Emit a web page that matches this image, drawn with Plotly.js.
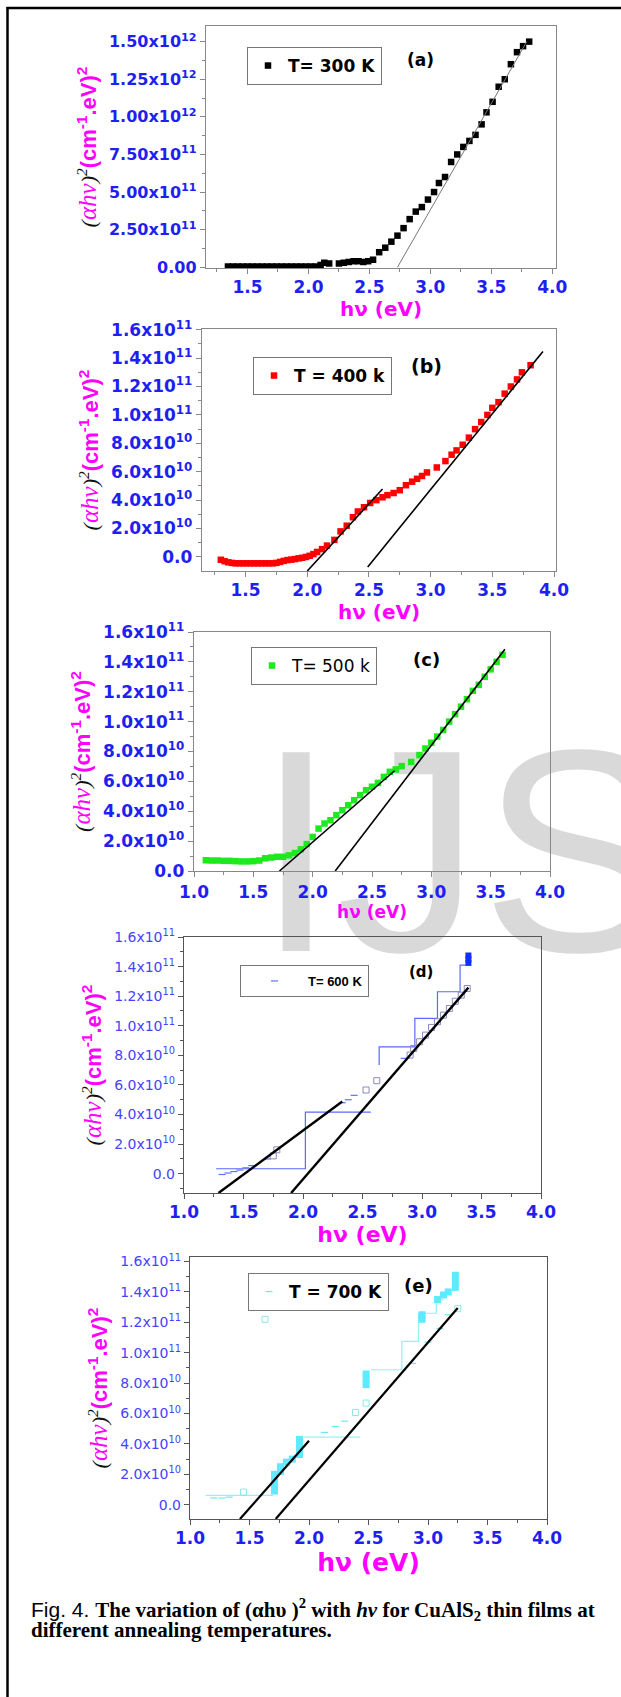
<!DOCTYPE html>
<html>
<head>
<meta charset="utf-8">
<script src="https://cdn.plot.ly/plotly-3.0.1.min.js"></script>
<style>html,body{margin:0;padding:0;background:#fff;}#chart{width:621px;height:1697px;}</style>
</head>
<body>
<div id="chart"></div>
<script>
// ---------------- DATA ----------------
// (a) T = 300 K   (y in cm^-2 eV^2)
const aX = [1.34,1.38,1.42,1.46,1.50,1.54,1.58,1.62,1.66,1.70,1.74,1.78,1.82,1.86,1.90,1.94,1.98,2.02,2.06,2.10,2.13,2.17,2.25,2.29,2.33,2.37,2.41,2.45,2.49,2.53,2.58,2.63,2.68,2.73,2.78,2.83,2.88,2.93,2.98,3.03,3.07,3.12,3.17,3.22,3.27,3.32,3.37,3.42,3.46,3.51,3.56,3.61,3.66,3.71,3.76,3.81];
const aY = [0.005e12,0.005e12,0.005e12,0.005e12,0.005e12,0.005e12,0.005e12,0.005e12,0.005e12,0.005e12,0.005e12,0.005e12,0.005e12,0.005e12,0.005e12,0.005e12,0.005e12,0.005e12,0.005e12,0.015e12,0.03e12,0.025e12,0.025e12,0.03e12,0.035e12,0.04e12,0.04e12,0.035e12,0.04e12,0.05e12,0.10e12,0.13e12,0.17e12,0.21e12,0.26e12,0.32e12,0.37e12,0.40e12,0.45e12,0.50e12,0.56e12,0.60e12,0.70e12,0.75e12,0.80e12,0.84e12,0.88e12,0.95e12,1.03e12,1.10e12,1.20e12,1.25e12,1.35e12,1.43e12,1.47e12,1.50e12];
const aFitX = [2.73, 3.79];
const aFitY = [0, 1.5e12];

// (b) T = 400 k
const bX = [1.30,1.33,1.36,1.39,1.42,1.45,1.48,1.51,1.54,1.57,1.60,1.63,1.66,1.69,1.72,1.75,1.78,1.81,1.84,1.87,1.90,1.93,1.96,1.99,2.02,2.05,2.08,2.12,2.16,2.22,2.27,2.32,2.37,2.41,2.46,2.51,2.56,2.61,2.65,2.70,2.75,2.80,2.85,2.89,2.93,2.97,3.05,3.12,3.17,3.21,3.26,3.31,3.36,3.41,3.46,3.50,3.55,3.60,3.65,3.70,3.74,3.81];
const bY = [-0.2e10,-0.3e10,-0.38e10,-0.42e10,-0.45e10,-0.45e10,-0.45e10,-0.45e10,-0.45e10,-0.45e10,-0.45e10,-0.45e10,-0.45e10,-0.45e10,-0.45e10,-0.42e10,-0.35e10,-0.28e10,-0.22e10,-0.19e10,-0.15e10,-0.1e10,-0.06e10,0.0,0.08e10,0.2e10,0.35e10,0.55e10,0.8e10,1.2e10,1.8e10,2.2e10,2.8e10,3.2e10,3.5e10,3.8e10,4.0e10,4.2e10,4.35e10,4.5e10,4.7e10,5.05e10,5.3e10,5.5e10,5.7e10,5.95e10,6.3e10,6.75e10,7.2e10,7.5e10,7.9e10,8.4e10,9.0e10,9.5e10,10.0e10,10.5e10,10.9e10,11.5e10,12.0e10,12.5e10,13.0e10,13.5e10];
const bFit1X = [2.00, 2.61];
const bFit1Y = [-0.99e10, 4.78e10];
const bFit2X = [2.49, 3.91];
const bFit2Y = [-0.7e10, 14.47e10];

// (c) T = 500 k
const cX = [1.10,1.15,1.20,1.25,1.30,1.35,1.40,1.45,1.50,1.55,1.60,1.65,1.70,1.75,1.80,1.85,1.90,1.95,2.00,2.05,2.10,2.15,2.20,2.25,2.30,2.35,2.40,2.45,2.50,2.55,2.60,2.65,2.70,2.75,2.83,2.90,2.95,3.00,3.05,3.10,3.15,3.20,3.25,3.30,3.35,3.40,3.45,3.50,3.55,3.60];
const cY = [0.72e10,0.70e10,0.70e10,0.68e10,0.68e10,0.66e10,0.64e10,0.64e10,0.66e10,0.70e10,0.85e10,0.90e10,0.95e10,0.95e10,1.05e10,1.2e10,1.45e10,1.8e10,2.28e10,2.84e10,3.18e10,3.4e10,3.74e10,4.07e10,4.4e10,4.74e10,5.08e10,5.41e10,5.64e10,5.9e10,6.3e10,6.64e10,6.8e10,7.02e10,7.3e10,7.76e10,8.2e10,8.59e10,9.0e10,9.44e10,10.0e10,10.5e10,11.0e10,11.5e10,12.06e10,12.46e10,13.0e10,13.5e10,14.0e10,14.47e10];
const cFit1X = [1.72, 2.69];
const cFit1Y = [0, 6.71e10];
const cFit2X = [2.19, 3.62];
const cFit2Y = [0, 14.85e10];

// (d) T = 600 K
const dStepX = [1.27, 2.02, 2.57, null, 2.64, 2.64, 2.94, 3.13, 3.32, 3.40];
const dStepY = [0.34e10, 4.16e10, 4.16e10, null, 7.35e10, 8.58e10, 10.5e10, 12.3e10, 14.1e10, 14.1e10];
const dOpenX = [1.75,1.78,2.53,2.62,2.90,2.93,2.98,3.03,3.08,3.13,3.18,3.23,3.28,3.33,3.38,4.15];
const dOpenY = [1.21e10,1.62e10,5.66e10,6.29e10,8.02e10,8.47e10,8.92e10,9.37e10,9.89e10,10.27e10,10.72e10,11.17e10,11.66e10,12.07e10,12.52e10,-3.06e10];
const dDotX = [1.32,1.37,1.42,1.47,1.52,1.57,1.70,2.33,2.38,2.43,2.85];
const dDotY = [-0.05e10,0.05e10,0.15e10,0.25e10,0.4e10,0.55e10,1.0e10,4.8e10,5.0e10,5.3e10,7.8e10];
const dFillX = [3.39, 3.39, 3.39];
const dFillY = [14.25e10, 14.5e10, 14.75e10];
const dFit1X = [1.29, 2.33];
const dFit1Y = [-1.3e10, 4.88e10];
const dFit2X = [1.90, 3.39];
const dFit2Y = [-1.3e10, 12.58e10];

// (e) T = 700 K
const eStepX = [1.13, 1.70, null, 1.96, 2.43, null, 2.52, 2.78, 2.92, 3.07, 3.13];
const eStepY = [0.61e10, 0.61e10, null, 4.45e10, 4.45e10, null, 8.88e10, 10.75e10, 12.6e10, 13.5e10, 13.5e10];
const eFillX = [1.71,1.71,1.71,1.71,1.76,1.76,1.81,1.86,1.92,1.92,1.92,1.92,2.48,2.48,2.48,2.95,2.95,3.08,3.13,3.17,3.23,3.23,3.23];
const eFillY = [0.9e10,1.3e10,1.7e10,2.0e10,2.2e10,2.5e10,2.8e10,3.0e10,3.3e10,3.7e10,4.0e10,4.3e10,7.9e10,8.3e10,8.6e10,12.2e10,12.5e10,13.5e10,13.8e10,14.0e10,14.3e10,14.7e10,15.1e10];
const eOpenX = [1.63, 1.45, 2.39, 2.48, 3.25];
const eOpenY = [12.2e10, 0.83e10, 6.07e10, 6.69e10, 12.9e10];
const eDotX = [1.20,1.27,1.33,2.13,2.22,2.30,2.87,3.00,3.10,3.17];
const eDotY = [0.44e10,0.44e10,0.5e10,4.76e10,5.15e10,5.5e10,9.3e10,10.7e10,11.6e10,12.5e10];
const eFit1X = [1.42, 2.00];
const eFit1Y = [-0.94e10, 4.21e10];
const eFit2X = [1.72, 3.25];
const eFit2Y = [-0.94e10, 12.94e10];

// tick labels
const xTicksA = [1.5, 2.0, 2.5, 3.0, 3.5, 4.0];
const xTextA = ['1.5', '2.0', '2.5', '3.0', '3.5', '4.0'];
const xTicksC = [1.0, 1.5, 2.0, 2.5, 3.0, 3.5, 4.0];
const xTextC = ['1.0', '1.5', '2.0', '2.5', '3.0', '3.5', '4.0'];
const yTicksA = [0, 0.25e12, 0.5e12, 0.75e12, 1.0e12, 1.25e12, 1.5e12];
const yTextA = ['0.00', '2.50x10<sup>11</sup>', '5.00x10<sup>11</sup>', '7.50x10<sup>11</sup>', '1.00x10<sup>12</sup>', '1.25x10<sup>12</sup>', '1.50x10<sup>12</sup>'];
const yTicksB = [0, 2e10, 4e10, 6e10, 8e10, 1.0e11, 1.2e11, 1.4e11, 1.6e11];
const yTextB = ['0.0', '2.0x10<sup>10</sup>', '4.0x10<sup>10</sup>', '6.0x10<sup>10</sup>', '8.0x10<sup>10</sup>', '1.0x10<sup>11</sup>', '1.2x10<sup>11</sup>', '1.4x10<sup>11</sup>', '1.6x10<sup>11</sup>'];

const legendNames = ['T= 300 K', 'T = 400 k', 'T= 500 k', 'T= 600 K', 'T = 700 K'];
const panelLabels = ['(a)', '(b)', '(c)', '(d)', '(e)'];

// ---------------- STYLE / LAYOUT ----------------
const W = 621, H = 1697;
const magenta = '#ff00ff';
const blue = '#1f1ff2';
const blueLight = '#4444ff';
const geo = [
  {l:206, r:556, t:26,   b:268,  xr:[1.16,4.03], yr:[-0.005e12,1.604e12], yfs:16, ybold:true, yc:blue, xts:20, so:0, tls:-2, frame:'#888'},
  {l:202, r:556, t:329,  b:571,  xr:[1.147,4.016], yr:[-0.99e10,1.605e11], yfs:17, ybold:true, yc:blue, xts:20, so:0, tls:-2, frame:'#888'},
  {l:194, r:550, t:632,  b:871,  xr:[1.0,4.0], yr:[0,1.6e11], yfs:17, ybold:true, yc:blue, xts:17, so:2, tls:0, frame:'#888'},
  {l:184, r:541, t:937,  b:1193, xr:[1.0,4.0], yr:[-1.3e10,1.6e11], yfs:14, ybold:false, yc:blueLight, xts:22, so:0, tls:-2, frame:'#555'},
  {l:190, r:547, t:1257, b:1519, xr:[1.0,4.0], yr:[-0.94e10,1.63e11], yfs:14, ybold:false, yc:blueLight, xts:25, so:0, tls:-2, frame:'#555'}
];
const xTickSets = [[xTicksA,xTextA],[xTicksA,xTextA],[xTicksC,xTextC],[xTicksC,xTextC],[xTicksC,xTextC]];
const yTickSets = [[yTicksA,yTextA],[yTicksB,yTextB],[yTicksB,yTextB],[yTicksB,yTextB],[yTicksB,yTextB]];

const yTitleText = '<span style="font-family:Liberation Serif;font-style:italic;font-weight:normal;color:#111">(<span style="color:#ff00ff;font-size:25px">αhν</span>)<sup>2</sup></span>(cm<sup>-1</sup>.eV)<sup>2</sup>';

const layout = {
  width: W, height: H,
  margin: {l:0, r:0, t:0, b:0},
  paper_bgcolor: '#ffffff',
  plot_bgcolor: 'rgba(0,0,0,0)',
  showlegend: true,
  annotations: [],
  shapes: []
};

geo.forEach((g, i) => {
  const n = i === 0 ? '' : String(i + 1);
  const yMinor = i === 0 ? 0.125e12 : 1e10;
  layout['xaxis' + n] = {
    domain: [g.l / W, g.r / W],
    anchor: 'y' + n,
    range: g.xr,
    tickmode: 'array', tickvals: xTickSets[i][0], ticktext: xTickSets[i][1],
    ticks: 'outside', ticklen: 5, tickcolor: g.frame, ticklabelstandoff: g.tls,
    minor: {dtick: 0.25, tick0: 1.0, ticks: 'outside', ticklen: 3, tickcolor: g.frame},
    tickfont: {family: 'DejaVu Sans', size: 17, color: blue, weight: 'bold'},
    showline: true, linecolor: g.frame, linewidth: 1.2, mirror: true,
    showgrid: false, zeroline: false, automargin: false,
    title: {text: 'hν (eV)', font: {family: 'DejaVu Sans', size: g.xts, color: magenta, weight: 'bold'}, standoff: g.so}
  };
  layout['yaxis' + n] = {
    domain: [1 - g.b / H, 1 - g.t / H],
    anchor: 'x' + n,
    range: g.yr,
    tickmode: 'array', tickvals: yTickSets[i][0], ticktext: yTickSets[i][1],
    ticks: 'outside', ticklen: 5, tickcolor: g.frame,
    minor: {dtick: yMinor, tick0: 0, ticks: 'outside', ticklen: 3, tickcolor: g.frame},
    tickfont: {family: 'DejaVu Sans', size: g.yfs, color: g.yc, weight: g.ybold ? 'bold' : 'normal'},
    showline: true, linecolor: g.frame, linewidth: 1.2, mirror: true,
    showgrid: false, zeroline: false, automargin: false,
    title: {text: yTitleText, font: {family: 'Liberation Sans', size: 22, color: magenta, weight: 'bold'}, standoff: 6}
  };
});

// legends
const legPos = [[247,47],[253,357],[251,647],[240,965],[248,1273]];
const legFont = [
  {family:'DejaVu Sans', size:17, weight:'bold', color:'#000'},
  {family:'DejaVu Sans', size:17, weight:'bold', color:'#000'},
  {family:'DejaVu Sans', size:17, weight:'normal', color:'#000'},
  {family:'Liberation Sans', size:13, weight:'bold', color:'#000'},
  {family:'DejaVu Sans', size:17, weight:'bold', color:'#000'}
];
legPos.forEach((p, i) => {
  const key = i === 0 ? 'legend' : 'legend' + (i + 1);
  layout[key] = {
    x: p[0] / W, y: 1 - p[1] / H, xanchor: 'left', yanchor: 'top',
    xref: 'paper', yref: 'paper',
    bgcolor: '#ffffff', bordercolor: '#777', borderwidth: 1,
    font: legFont[i], itemwidth: i === 3 ? 57 : 30, valign: 'middle',
    tracegroupgap: 0
  };
});

// panel letters
const labPos = [[420,60,17],[427,366,19],[426,659,18],[421,972,15],[418,1285,18]];
labPos.forEach((p, i) => {
  layout.annotations.push({
    xref:'paper', yref:'paper', x: p[0]/W, y: 1 - p[1]/H, xanchor:'center', yanchor:'middle',
    text: panelLabels[i], showarrow:false,
    font:{family:'DejaVu Sans', size:p[2], weight:'bold', color:'#000'}
  });
});

// caption
layout.annotations.push({
  xref:'paper', yref:'paper', x: 29/W, y: 1 - 1609/H, xanchor:'left', yanchor:'middle', showarrow:false, align:'left',
  text: '<span style="font-family:Liberation Sans;font-weight:normal">Fig. 4. </span><b>The variation of (αhυ )<sup>2</sup> with <i>hv</i> for CuAlS<sub>2</sub> thin films at</b>',
  font:{family:'Liberation Serif', size:21, color:'#000'}
});
layout.annotations.push({
  xref:'paper', yref:'paper', x: 29/W, y: 1 - 1630/H, xanchor:'left', yanchor:'middle', showarrow:false, align:'left',
  text: '<b>different annealing temperatures.</b>',
  font:{family:'Liberation Serif', size:21, color:'#000'}
});

// watermark (behind traces) and page frame
layout.shapes.push({
  type:'rect', xref:'paper', yref:'paper', x0: 253/W, x1: 660/W, y0: 1 - 927/H, y1: 1 - 720/H,
  line:{width:0}, fillcolor:'rgba(0,0,0,0)', layer:'below',
  label:{text:'IJS', textposition:'middle left', padding:0, font:{family:'Liberation Sans', size:289, color:'#d9d9d9'}}
});
layout.shapes.push({type:'line', xref:'paper', yref:'paper', x0: 7.5/W, x1: 7.5/W, y0: 0, y1: 1 - 7/H, line:{color:'#000', width:2.5}});
layout.shapes.push({type:'line', xref:'paper', yref:'paper', x0: 6.5/W, x1: 1, y0: 1 - 8/H, y1: 1 - 8/H, line:{color:'#000', width:2.5}});

// ---------------- TRACES ----------------
const traces = [
  {x:aX, y:aY, xaxis:'x', yaxis:'y', mode:'markers', name:legendNames[0], legend:'legend',
   marker:{symbol:'square', size:6.5, color:'#000'}},
  {x:aFitX, y:aFitY, xaxis:'x', yaxis:'y', mode:'lines', showlegend:false, line:{color:'#777', width:1}},

  {x:bX, y:bY, xaxis:'x2', yaxis:'y2', mode:'markers', name:legendNames[1], legend:'legend2',
   marker:{symbol:'square', size:6.5, color:'#ff0000'}},
  {x:bFit1X, y:bFit1Y, xaxis:'x2', yaxis:'y2', mode:'lines', showlegend:false, line:{color:'#000', width:1.6}},
  {x:bFit2X, y:bFit2Y, xaxis:'x2', yaxis:'y2', mode:'lines', showlegend:false, line:{color:'#000', width:1.6}},

  {x:cX, y:cY, xaxis:'x3', yaxis:'y3', mode:'markers', name:legendNames[2], legend:'legend3',
   marker:{symbol:'square', size:6.5, color:'#1ee81e'}},
  {x:cFit1X, y:cFit1Y, xaxis:'x3', yaxis:'y3', mode:'lines', showlegend:false, line:{color:'#000', width:1.6}},
  {x:cFit2X, y:cFit2Y, xaxis:'x3', yaxis:'y3', mode:'lines', showlegend:false, line:{color:'#000', width:1.6}},

  {x:dStepX, y:dStepY, xaxis:'x4', yaxis:'y4', mode:'lines', showlegend:false, connectgaps:false,
   line:{shape:'hv', color:'#5a6aff', width:1.2}},
  {x:dOpenX, y:dOpenY, xaxis:'x4', yaxis:'y4', mode:'markers', showlegend:false, cliponaxis:false,
   marker:{symbol:'square-open', size:6, color:'#8a8abb', line:{width:1}}},
  {x:dDotX, y:dDotY, xaxis:'x4', yaxis:'y4', mode:'markers', name:legendNames[3], legend:'legend4',
   marker:{symbol:'line-ew', size:5, color:'#6070ff', line:{color:'#6070ff', width:1.2}}},
  {x:dFillX, y:dFillY, xaxis:'x4', yaxis:'y4', mode:'markers', showlegend:false,
   marker:{symbol:'square', size:6, color:'#1030ff'}},
  {x:dFit1X, y:dFit1Y, xaxis:'x4', yaxis:'y4', mode:'lines', showlegend:false, line:{color:'#000', width:2.4}},
  {x:dFit2X, y:dFit2Y, xaxis:'x4', yaxis:'y4', mode:'lines', showlegend:false, line:{color:'#000', width:2.4}},

  {x:eStepX, y:eStepY, xaxis:'x5', yaxis:'y5', mode:'lines', showlegend:false, connectgaps:false,
   line:{shape:'hv', color:'#8ff3f3', width:1.2}},
  {x:eOpenX, y:eOpenY, xaxis:'x5', yaxis:'y5', mode:'markers', showlegend:false,
   marker:{symbol:'square-open', size:6, color:'#8fe6e6', line:{width:1}}},
  {x:eDotX, y:eDotY, xaxis:'x5', yaxis:'y5', mode:'markers', name:legendNames[4], legend:'legend5',
   marker:{symbol:'line-ew', size:5, color:'#6ee8f0', line:{color:'#6ee8f0', width:1.2}}},
  {x:eFillX, y:eFillY, xaxis:'x5', yaxis:'y5', mode:'markers', showlegend:false,
   marker:{symbol:'square', size:7, color:'#5eeaff'}},
  {x:eFit1X, y:eFit1Y, xaxis:'x5', yaxis:'y5', mode:'lines', showlegend:false, line:{color:'#000', width:2.2}},
  {x:eFit2X, y:eFit2Y, xaxis:'x5', yaxis:'y5', mode:'lines', showlegend:false, line:{color:'#000', width:2.2}}
];

Plotly.newPlot('chart', traces, layout, {staticPlot: true, displayModeBar: false});
</script>
</body>
</html>
